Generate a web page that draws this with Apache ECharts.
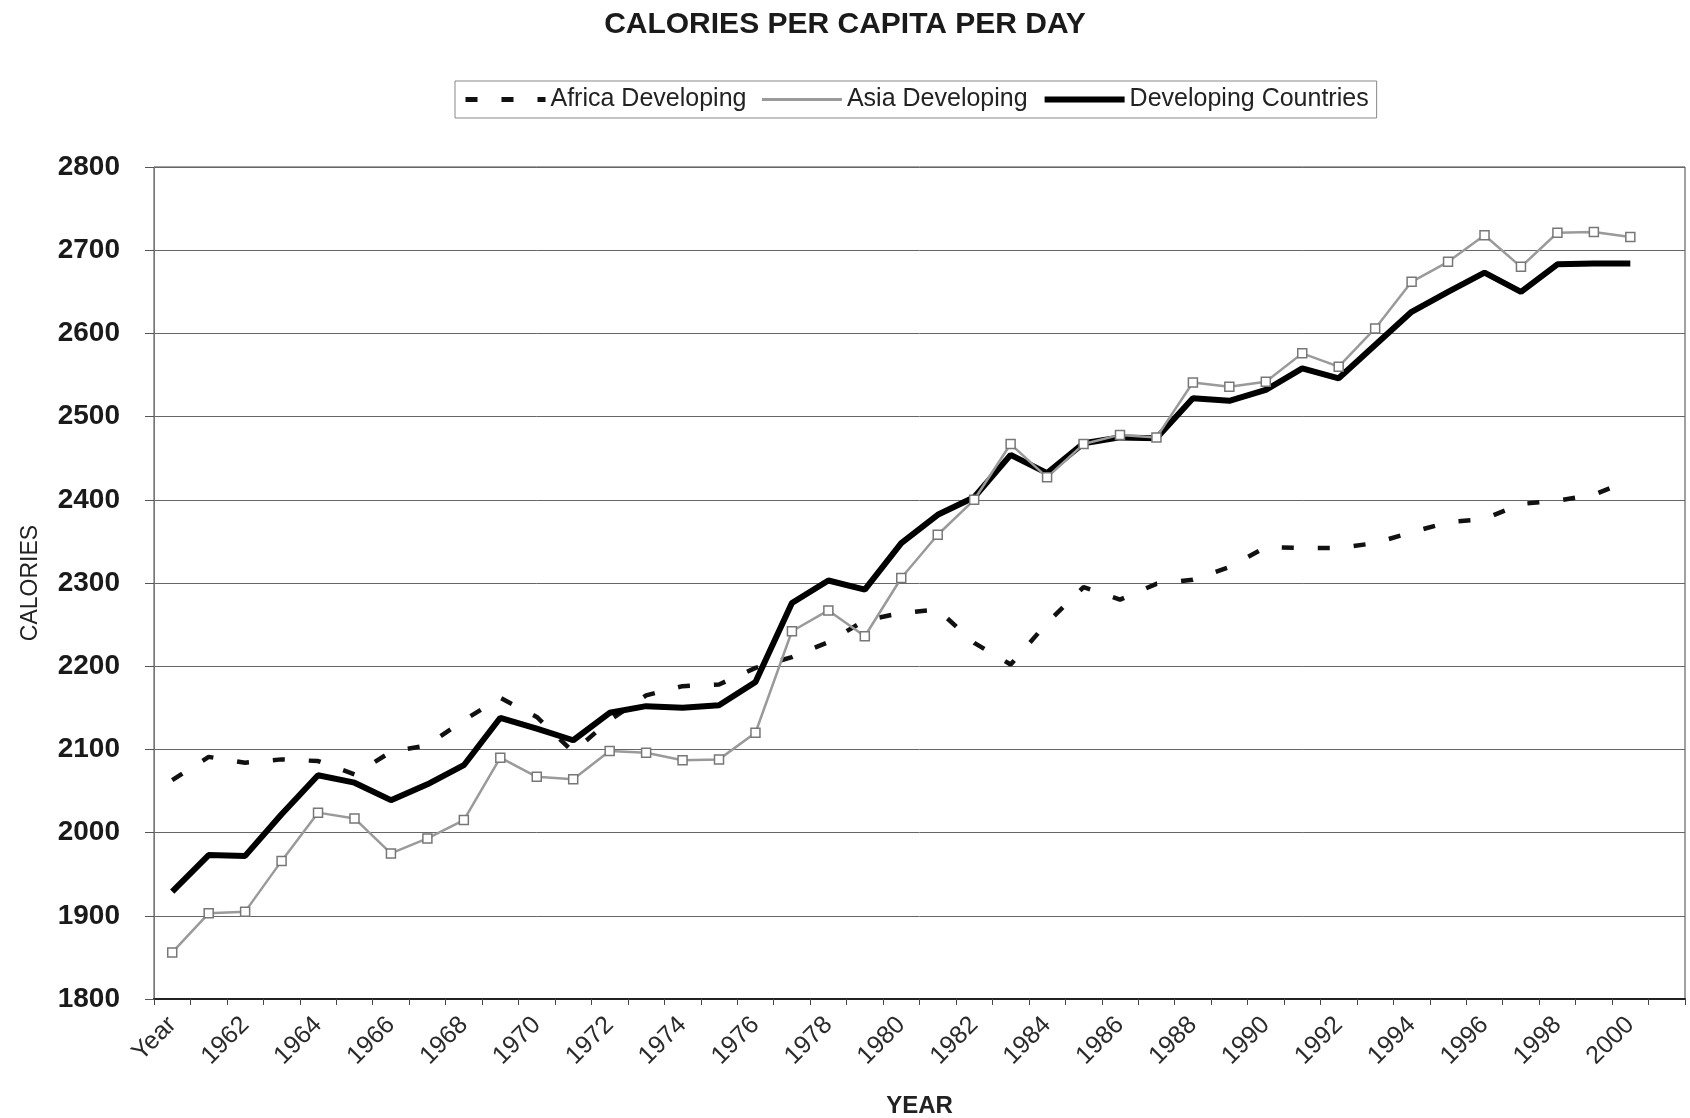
<!DOCTYPE html>
<html>
<head>
<meta charset="utf-8">
<script src="https://cdn.jsdelivr.net/npm/echarts@6/dist/echarts.min.js"></script>
<style>
  html, body { margin: 0; padding: 0; background: #fff; }
  #main { width: 1690px; height: 1118px; }
</style>
</head>
<body>
<div id="main"></div>
<script>
    var years = ['Year', '1961', '1962', '1963', '1964', '1965', '1966', '1967', '1968', '1969', '1970',
        '1971', '1972', '1973', '1974', '1975', '1976', '1977', '1978', '1979', '1980',
        '1981', '1982', '1983', '1984', '1985', '1986', '1987', '1988', '1989', '1990',
        '1991', '1992', '1993', '1994', '1995', '1996', '1997', '1998', '1999', '2000', '2001'];

    var africa = [2063, 2091, 2084, 2088, 2086, 2070, 2097, 2105, 2135, 2162, 2139,
        2097, 2135, 2165, 2176, 2178, 2198, 2211, 2229, 2255, 2264,
        2268, 2228, 2202, 2252, 2295, 2280, 2299, 2304, 2319, 2343,
        2342, 2342, 2348, 2361, 2373, 2377, 2395, 2399, 2406, 2424];

    var asia = [1856, 1903, 1905, 1966, 2024, 2017, 1975, 1993, 2015, 2090, 2067,
        2064, 2098, 2096, 2087, 2088, 2120, 2242, 2267, 2236, 2306,
        2358, 2400, 2467, 2427, 2467, 2478, 2475, 2541, 2536, 2542,
        2576, 2560, 2606, 2662, 2686, 2718, 2680, 2721, 2722, 2716];

    var developing = [1929, 1973, 1972, 2022, 2069, 2060, 2039, 2058, 2081, 2138, 2125,
        2111, 2144, 2152, 2150, 2153, 2181, 2276, 2303, 2292, 2348,
        2382, 2403, 2454, 2432, 2468, 2475, 2474, 2522, 2519, 2532,
        2558, 2546, 2586, 2626, 2650, 2673, 2650, 2683, 2684, 2684];

    var font = 'Liberation Sans, Arial, sans-serif';

    var myChart = echarts.init(document.getElementById('main'));
    option = {
        animation: false,
        backgroundColor: '#fff',
        title: {
            text: 'CALORIES PER CAPITA PER DAY',
            left: 'center',
            top: 5,
            textStyle: { fontFamily: font, fontSize: 30, fontWeight: 'bold', color: '#1a1a1a' }
        },
        legend: {
            left: 455,
            top: 81,
            padding: [6, 8],
            itemGap: 14,
            itemWidth: 80,
            itemHeight: 14,
            borderColor: '#888',
            borderWidth: 1,
            itemStyle: { opacity: 0 },
            textStyle: { fontFamily: font, fontSize: 25, color: '#222' },
            data: [
                { name: 'Africa Developing', lineStyle: { width: 5 } },
                { name: 'Asia Developing', lineStyle: { width: 3 } },
                { name: 'Developing Countries', lineStyle: { width: 6 } }
            ]
        },
        grid: {
            left: 154,
            right: 5,
            top: 167,
            bottom: 119,
            outerBoundsMode: 'none',
            containLabel: false,
            show: true,
            borderColor: '#444',
            borderWidth: 1
        },
        xAxis: {
            type: 'category',
            data: years,
            boundaryGap: true,
            name: 'YEAR',
            nameLocation: 'middle',
            nameGap: 95,
            nameTextStyle: { fontFamily: font, fontSize: 24, fontWeight: 'bold', color: '#222' },
            axisLine: { lineStyle: { color: '#222', width: 2 } },
            axisTick: { show: true, interval: 0, length: 6, lineStyle: { color: '#444' } },
            axisLabel: {
                interval: 1,
                rotate: 45,
                fontFamily: font,
                fontSize: 25,
                color: '#2a2a2a',
                margin: 22
            }
        },
        yAxis: {
            type: 'value',
            min: 1800,
            max: 2800,
            interval: 100,
            name: 'CALORIES',
            nameLocation: 'middle',
            nameGap: 112,
            nameRotate: 90,
            nameTextStyle: { fontFamily: font, fontSize: 23, color: '#222' },
            axisLine: { show: true, lineStyle: { color: '#777', width: 1 } },
            axisTick: { show: true, length: 9, lineStyle: { color: '#555' } },
            axisLabel: {
                fontFamily: font, fontSize: 28, fontWeight: 'bold', color: '#1a1a1a', margin: 34,
                formatter: function (v) { return String(v); }
            },
            splitLine: { show: true, lineStyle: { color: '#666', width: 1 } }
        },
        series: [
            {
                name: 'Africa Developing',
                type: 'line',
                data: africa,
                showSymbol: false,
                symbol: 'none',
                z: 2,
                lineStyle: { color: '#111', width: 4.5, type: [12, 24] },
                itemStyle: { color: '#111' }
            },
            {
                name: 'Asia Developing',
                type: 'line',
                data: asia,
                symbol: 'rect',
                symbolSize: 9,
                z: 4,
                lineStyle: { color: '#9a9a9a', width: 2.5 },
                itemStyle: { color: '#fff', borderColor: '#777', borderWidth: 1.5 }
            },
            {
                name: 'Developing Countries',
                type: 'line',
                data: developing,
                showSymbol: false,
                symbol: 'none',
                z: 3,
                lineStyle: { color: '#000', width: 6 },
                itemStyle: { color: '#000' }
            }
        ]
    };
    myChart.setOption(option);
</script>
</body>
</html>
